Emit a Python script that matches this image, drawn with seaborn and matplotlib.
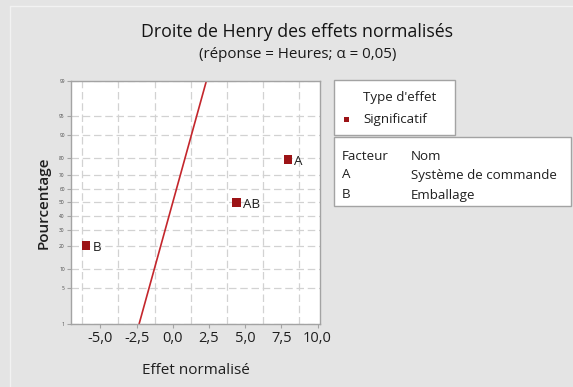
import numpy as np
import matplotlib
matplotlib.use("Agg")
import matplotlib.pyplot as plt
from matplotlib.patches import Rectangle
from matplotlib.ticker import FixedLocator, FixedFormatter, MultipleLocator
import pandas as pd
import seaborn as sns
from statistics import NormalDist

# Standardized effects and their normal-plot percentages
terms = ["A", "AB", "B"]
effects = [7.95, 4.42, -5.99]
percents = [79.4, 50.0, 20.6]

pct_ticks = [1, 5, 10, 20, 30, 40, 50, 60, 70, 80, 90, 95, 99]
x_ticks = [-5.0, -2.5, 0.0, 2.5, 5.0, 7.5, 10.0]
x_tick_labels = ["-5,0", "-2,5", "0,0", "2,5", "5,0", "7,5", "10,0"]

factors = ["A", "B"]
factor_names = ["Système de commande", "Emballage"]

W, H = 573, 387
BG = "#e4e4e4"
MARK = "#9c1316"
LINE = "#c4262c"
FRAME = "#a3a3a3"
TXT = "#1f1f1f"
LEG_FS = 9.6

sns.set_theme(style="white")
plt.rcParams["font.family"] = ["Open Sans", "DejaVu Sans"]

_nd = NormalDist()
_ppf = np.vectorize(_nd.inv_cdf, otypes=[float])
_cdf = np.vectorize(_nd.cdf, otypes=[float])


def prob_forward(p):
    p = np.clip(np.asarray(p, dtype=float) / 100.0, 1e-9, 1 - 1e-9)
    return _ppf(p)


def prob_inverse(z):
    return _cdf(np.asarray(z, dtype=float)) * 100.0


def px(x, y):
    return x / W, 1 - y / H


fig = plt.figure(figsize=(W / 100, H / 100), dpi=100, facecolor=BG)

# outer panel edge
fig.add_artist(plt.Line2D([10 / W, 10 / W], [0, 1 - 6 / H], transform=fig.transFigure,
                          color="#f2f2f2", lw=1))
fig.add_artist(plt.Line2D([10 / W, 1], [1 - 6 / H, 1 - 6 / H], transform=fig.transFigure,
                          color="#f2f2f2", lw=1))

ax = fig.add_axes([71 / W, 1 - 324 / H, (320 - 71) / W, (324 - 80.7) / H])
ax.set_facecolor("white")
ax.set_yscale("function", functions=(prob_forward, prob_inverse))
ax.set_ylim(1, 99)
ax.set_xlim(-7.03, 10.17)

# dashed grid
ax.xaxis.set_major_locator(FixedLocator(x_ticks))
ax.xaxis.set_major_formatter(FixedFormatter(x_tick_labels))
ax.xaxis.set_minor_locator(MultipleLocator(1.25))
ax.yaxis.set_major_locator(FixedLocator(pct_ticks))
ax.yaxis.set_major_formatter(FixedFormatter([str(t) for t in pct_ticks]))
ax.yaxis.set_minor_locator(FixedLocator([]))
ax.grid(which="minor", axis="x", color="#d2d2d2", lw=0.9, ls=(0, (6, 3)))
ax.grid(which="major", axis="x", visible=False)
ax.grid(which="major", axis="y", color="#d2d2d2", lw=0.9, ls=(0, (6, 3)))
ax.set_axisbelow(True)

ax.tick_params(axis="x", which="major", length=3, width=0.8, color=FRAME, pad=2,
               labelsize=10.5, labelcolor=TXT, bottom=True)
ax.tick_params(axis="x", which="minor", length=0)
ax.tick_params(axis="y", which="major", length=3, width=0.8, color=FRAME, pad=1.5,
               labelsize=3.5, labelcolor="#444444", left=True)
for s in ax.spines.values():
    s.set_color(FRAME)
    s.set_linewidth(1.0)

# reference line for effects that are pure noise (standard normal)
line_df = pd.DataFrame({"pct": [1, 99]})
line_df["z"] = prob_forward(line_df["pct"])
sns.lineplot(data=line_df, x="z", y="pct", ax=ax, color=LINE, lw=1.2, sort=False)

pts = pd.DataFrame({"terme": terms, "effet": effects, "pct": percents})
sns.scatterplot(data=pts, x="effet", y="pct", ax=ax, marker="s", s=38,
                color=MARK, edgecolor="none", zorder=5)
for t, x, y in zip(terms, effects, percents):
    ax.annotate(t, (x, y), xytext=(4.5, -1.5), textcoords="offset points",
                va="center", ha="left", fontsize=LEG_FS, color=TXT)

ax.set_xlabel("Effet normalisé", fontsize=11, color=TXT, labelpad=12)
ax.set_ylabel("Pourcentage", fontsize=11, color=TXT, labelpad=6, fontweight="semibold")

# titles
fig.text(*px(297, 32), "Droite de Henry des effets normalisés", ha="center", va="center",
         fontsize=12.8, color="#141414")
fig.text(*px(298, 55), "(réponse = Heures; α = 0,05)", ha="center", va="center",
         fontsize=10.9, color="#1a1a1a")

# legend: effect type
fig.add_artist(Rectangle(px(334, 135), 121 / W, 55 / H, transform=fig.transFigure,
                         facecolor="white", edgecolor=FRAME, lw=1))
fig.text(*px(363, 98), "Type d'effet", ha="left", va="center", fontsize=LEG_FS, color=TXT)
fig.add_artist(Rectangle(px(343.5, 121.5), 5 / W, 5 / H, transform=fig.transFigure,
                         facecolor=MARK, edgecolor="none"))
fig.text(*px(363, 119), "Significatif", ha="left", va="center", fontsize=LEG_FS, color=TXT)

# legend: factor names
fig.add_artist(Rectangle(px(334, 206), 237 / W, 69 / H, transform=fig.transFigure,
                         facecolor="white", edgecolor=FRAME, lw=1))
fig.text(*px(342, 156), "Facteur", ha="left", va="center", fontsize=LEG_FS, color=TXT)
fig.text(*px(411, 156), "Nom", ha="left", va="center", fontsize=LEG_FS, color=TXT)
for i, (f, n) in enumerate(zip(factors, factor_names)):
    y = 175 + 20 * i
    fig.text(*px(342, y), f, ha="left", va="center", fontsize=LEG_FS, color=TXT)
    fig.text(*px(411, y), n, ha="left", va="center", fontsize=LEG_FS, color=TXT)

fig.savefig("out.png", dpi=100, facecolor=BG)
